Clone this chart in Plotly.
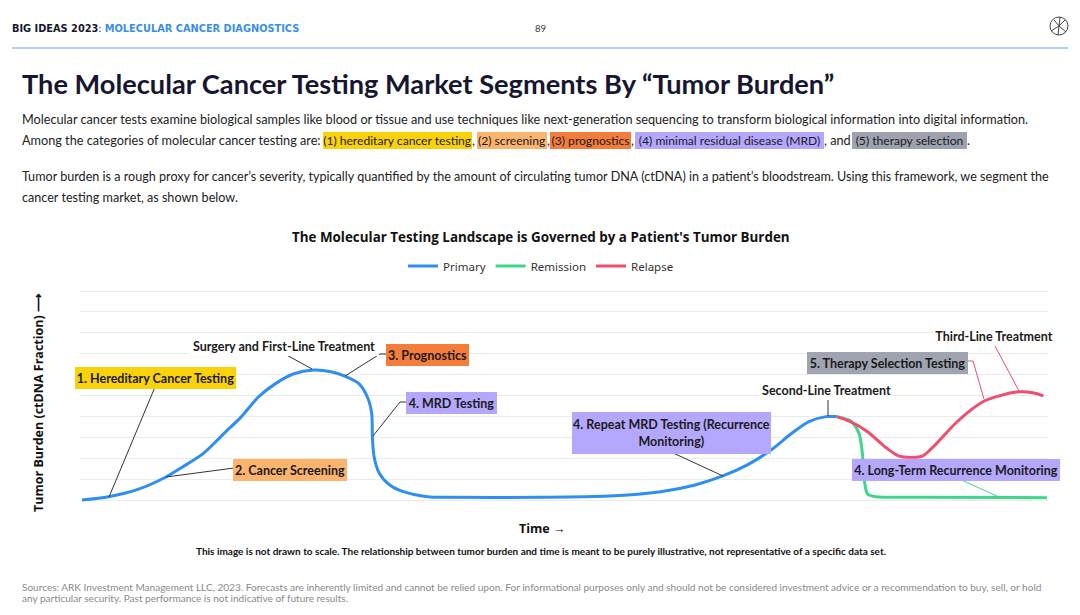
import plotly.graph_objects as go

# ---------------- data (illustrative curve) ----------------
primary_x = [0, 2.76, 5.80, 8.66, 10.46, 12.59, 14.74, 16.54, 18.32, 20.11, 21.90, 24.05,
             25.83, 27.26, 28.69, 29.59, 30.05, 30.12, 30.30, 30.84, 31.92, 33.34, 35.85,
             37.97, 47.5, 54.67, 60.03, 63.61, 66.47, 68.97, 71.47, 73.62, 75.41, 77.18, 78.28]
primary_y = [0, 0.16, 0.51, 1.09, 1.59, 2.23, 3.19, 3.99, 4.94, 5.58, 6.03, 6.22,
             6.14, 5.93, 5.58, 4.94, 4.15, 3.03, 2.07, 1.28, 0.72, 0.40, 0.16,
             0.13, 0.13, 0.19, 0.40, 0.72, 1.15, 1.67, 2.39, 3.19, 3.75, 3.99, 3.99]

remission_x = [78.28, 79.70, 80.60, 80.95, 81.20, 81.49, 82.37, 86.86, 100.1]
remission_y = [3.99, 3.79, 3.19, 2.23, 0.80, 0.29, 0.16, 0.13, 0.11]

relapse_x = [78.28, 79.70, 81.49, 83.28, 84.71, 86.14, 87.22, 88.65, 90.44, 92.22,
             93.65, 95.44, 97.23, 98.65, 99.73]
relapse_y = [3.99, 3.75, 3.27, 2.55, 2.11, 2.04, 2.11, 2.71, 3.59, 4.31,
             4.75, 5.02, 5.18, 5.13, 4.98]

series_names = ["Primary", "Remission", "Relapse"]
series_colors = ["#2F8EF2", "#3DD68C", "#F04E6E"]

highlight_labels = ["(1) hereditary cancer testing", "(2) screening", "(3) prognostics",
                    "(4) minimal residual disease (MRD)", "(5) therapy selection"]
highlight_colors = ["#FAD20A", "#FBB46E", "#F57D3B", "#B4A7FE", "#9EA2AE"]

# ---------------- geometry helpers (page pixels -> paper coords) ----------------
W, H = 1080, 615
PL, PR, PT, PB = 80, 1048, 289, 504


def PX(px):
    return (px - PL) / (PR - PL)


def PY(py):
    return (PB - py) / (PB - PT)


FONT = "Lato"
BOX_FONT = "Lato"
DARK = "#161630"
BODY = 12.7

fig = go.Figure()
for xs, ys, name, col in zip([primary_x, remission_x, relapse_x],
                             [primary_y, remission_y, relapse_y],
                             series_names, series_colors):
    fig.add_trace(go.Scatter(x=xs, y=ys, mode="lines", name=name,
                             line=dict(color=col, width=3, shape="spline", smoothing=0.8),
                             hoverinfo="skip"))

ann = []
shapes = []


def text(px, py, s, size, color=DARK, bold=False, family=FONT, xanchor="left", **kw):
    if bold:
        s = "<b>" + s + "</b>"
    ann.append(dict(xref="paper", yref="paper", x=PX(px), y=PY(py), text=s,
                    showarrow=False, xanchor=xanchor, yanchor="middle", borderpad=0,
                    font=dict(size=size, color=color, family=family), **kw))


def box(x0, x1, yc, h, s, bg, size=12.5, bold=True, family=BOX_FONT):
    ann.append(dict(xref="paper", yref="paper", x=PX((x0 + x1) / 2), y=PY(yc),
                    text=("<b>" + s + "</b>") if bold else s, showarrow=False,
                    xanchor="center", yanchor="middle", width=x1 - x0, height=h,
                    bgcolor=bg, borderpad=0, borderwidth=0, align="center",
                    font=dict(size=size, color="#1a1a1a", family=family)))


def path(points, color="#333333", width=1):
    d = "M " + " L ".join(f"{PX(a)},{PY(b)}" for a, b in points)
    shapes.append(dict(type="path", xref="paper", yref="paper", path=d,
                       line=dict(color=color, width=width), layer="above"))


# ---------------- page header ----------------
text(11, 28, "<b>BIG IDEAS 2023</b>: <b><span style='color:#3A8EE8'>MOLECULAR CANCER DIAGNOSTICS</span></b>",
     9.8, family="DejaVu Sans")
text(540, 28, "89", 9.5, color="#333", xanchor="center", family="Lato")
shapes.append(dict(type="line", xref="paper", yref="paper", x0=PX(12), x1=PX(1068),
                   y0=PY(48), y1=PY(48), line=dict(color="#8CC4F8", width=1.5)))
# logo
shapes.append(dict(type="circle", xref="paper", yref="paper", x0=PX(1050), x1=PX(1068),
                   y0=PY(17), y1=PY(35), line=dict(color="#444", width=1)))
path([(1060, 17), (1058, 35)], "#444", 1)
path([(1051, 31), (1059, 26), (1066, 32)], "#444", 1)
path([(1054, 20), (1059, 26), (1065, 20)], "#444", 1)

# ---------------- title & body ----------------
text(21, 83, "The Molecular Cancer Testing Market Segments By \u201cTumor Burden\u201d", 27.2,
     bold=True, family="Lato")
text(21, 119, "Molecular cancer tests examine biological samples like blood or tissue and use techniques "
     "like next-generation sequencing to transform biological information into digital information.",
     BODY, color="#222")
text(21, 140, "Among the categories of molecular cancer testing are:", BODY, color="#222")
hl_pos = [(323, 472), (477, 547), (550, 631), (635, 824), (852, 967)]
for (a, b), lab, col in zip(hl_pos, highlight_labels, highlight_colors):
    box(a, b, 140, 17, lab, col, size=12.1, bold=False, family=FONT)
for px, s in [(471, ","), (546, ","), (630, ","), (823, ", and"), (966, ".")]:
    text(px, 140, s, BODY, color="#222")
text(21, 176, "Tumor burden is a rough proxy for cancer\u2019s severity, typically quantified by the amount of "
     "circulating tumor DNA (ctDNA) in a patient\u2019s bloodstream. Using this framework, we segment the",
     12.6, color="#222")
text(21, 197, "cancer testing market, as shown below.", 12.6, color="#222")

# ---------------- chart texts ----------------
text(541, 237, "The Molecular Testing Landscape is Governed by a Patient's Tumor Burden", 13.4,
     bold=True, family="Open Sans", xanchor="center", color="#111")
text(542, 528, "Time \u2192", 12.5, bold=True, family="Open Sans", xanchor="center", color="#111")
ann.append(dict(xref="paper", yref="paper", x=PX(38), y=PY(403),
                text="<b>Tumor Burden (ctDNA Fraction) \u27f6</b>", showarrow=False,
                textangle=-90, xanchor="center", yanchor="middle",
                font=dict(size=12.5, color="#111", family="Open Sans")))
text(541, 551, "This image is not drawn to scale. The relationship between tumor burden and time is meant "
     "to be purely illustrative, not representative of a specific data set.", 10.0, bold=True,
     family=FONT, xanchor="center", color="#111")
text(21, 587, "Sources: ARK Investment Management LLC, 2023. Forecasts are inherently limited and cannot be "
     "relied upon. For informational purposes only and should not be considered investment advice or a "
     "recommendation to buy, sell, or hold", 10.05, color="#8a8a8a")
text(21, 598, "any particular security. Past performance is not indicative of future results.", 10.05,
     color="#8a8a8a")

# ---------------- callouts ----------------
path([(155, 387), (109, 497)])
box(75, 236, 378, 22, "1. Hereditary Cancer Testing", "#FAD20A")
path([(234, 468), (166, 477)])
box(233, 347, 470, 22, "2. Cancer Screening", "#FBB46E")
path([(283, 353), (312, 369)])
box(189, 379, 346, 20, "Surgery and First-Line Treatment", "#FFFFFF")
path([(388, 354), (380, 354), (345, 376)])
box(386, 469, 355, 22, "3. Prognostics", "#F57D3B")
path([(406, 402), (400, 402), (373, 436)])
box(406, 497, 403, 22, "4. MRD Testing", "#B4A7FE")
path([(671, 452), (723, 476)])
box(572, 771, 433, 42, "4. Repeat MRD Testing (Recurrence<br>Monitoring)", "#B4A7FE")
path([(828, 398), (828, 416)])
box(760, 893, 390, 20, "Second-Line Treatment", "#FFFFFF")
path([(968, 361), (973, 361), (984, 399)], "#F04E6E", 1)
box(807, 968, 363, 22, "5. Therapy Selection Testing", "#A0A4B0")
path([(995, 346), (1019, 391)], "#F04E6E", 1)
box(933, 1055, 336, 20, "Third-Line Treatment", "#FFFFFF")
path([(957, 478), (999, 497)], "#3DD68C", 1)
box(852, 1060, 470, 22, "4. Long-Term Recurrence Monitoring", "#B4A7FE")

fig.update_layout(
    width=W, height=H, autosize=False,
    margin=dict(l=PL, r=W - PR, t=PT, b=H - PB, pad=0),
    paper_bgcolor="white", plot_bgcolor="white",
    showlegend=True,
    legend=dict(orientation="h", x=PX(541), xanchor="center", y=PY(266), yanchor="middle",
                font=dict(size=11.5, color="#333", family="Noto Sans"),
                itemwidth=30, tracegroupgap=0, bgcolor="rgba(0,0,0,0)"),
    xaxis=dict(range=[-2 / 9.64, 966 / 9.64], showgrid=False, zeroline=False, showline=False,
               showticklabels=False, ticks="", fixedrange=True),
    yaxis=dict(range=[-4 / 20.9, 211 / 20.9], tick0=0, dtick=1, showgrid=True,
               gridcolor="#EBEBEB", gridwidth=1, zeroline=False, showline=False,
               showticklabels=False, ticks="", fixedrange=True),
    annotations=ann, shapes=shapes,
)

fig.write_html("out.html")
